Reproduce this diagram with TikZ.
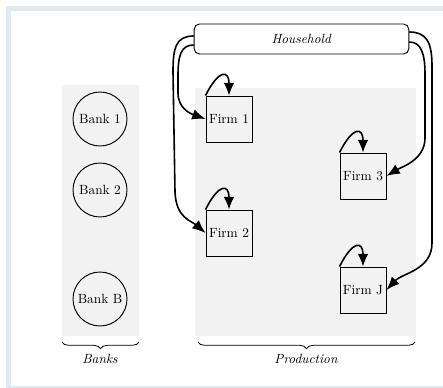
\documentclass[tikz,border=0pt]{standalone}
\usetikzlibrary{arrows.meta,calc,decorations.pathreplacing}
\definecolor{framecol}{RGB}{224,232,240}
\definecolor{panelgray}{RGB}{242,242,242}
\begin{document}
\begin{tikzpicture}[x=0.75pt,y=-0.75pt,
  panel/.style={fill=panelgray,draw=none},
  bank/.style={circle,draw,line width=0.7pt,minimum size=40.5pt,inner sep=0pt},
  firm/.style={rectangle,draw,line width=0.7pt,minimum width=34.5pt,minimum height=34.5pt,inner sep=0pt,fill=panelgray},
  house/.style={rectangle,rounded corners=4pt,draw,line width=0.7pt,minimum width=161pt,minimum height=22.5pt,fill=white},
  flow/.style={line width=1.2pt,-{Latex[length=10pt,width=8pt]}},
  loopflow/.style={line width=1.2pt,-{Latex[length=9.5pt,width=8pt]}},
  bracedec/.style={decorate,decoration={brace,mirror,amplitude=5pt},line width=0.6pt},
  caption/.style={font=\itshape}]
\useasboundingbox (0,0) rectangle (443,388);
% outer frame
\fill[framecol] (6,6) rectangle (450,388);
\fill[white] (11,11) rectangle (450,386.5);
% grey panels
\fill[panel] (62,85) rectangle (139,336);
\fill[panel] (195,88) rectangle (416,336);
% banks
\node[bank] (b1) at (100,119) {Bank 1};
\node[bank] (b2) at (100,190) {Bank 2};
\node[bank] (bB) at (100,299) {Bank B};
% household and firms
\node[house] (hh) at (301.5,39) {\textit{Household}};
\node[firm] (f1) at (229,119) {Firm 1};
\node[firm] (f2) at (229,233) {Firm 2};
\node[firm] (f3) at (363,176) {Firm 3};
\node[firm] (fJ) at (363,290) {Firm J};
% self loops
\foreach \f in {f1,f2,f3,fJ}
  \draw[loopflow] (\f.north west) .. controls +(13,-26) and +(0,-26) .. (\f.north);
% household to firms
\draw[flow] ($(hh.west)+(0,-3)$) .. controls +(-18,0) and +(0,-24) .. (173,72)
  -- (175,192) .. controls +(1,26) and +(-14,-12) .. (f2.west);
\draw[flow] ($(hh.west)+(0,6)$) .. controls +(-13,0) and +(0,-20) .. (178,76)
  -- (178,93) .. controls +(0,16) and +(-14,-5) .. (f1.west);
\draw[flow] ($(hh.east)+(0,3)$) .. controls +(12,0) and +(0,-20) .. (425,74)
  -- (425,138) .. controls +(0,22) and +(15,-9) .. (f3.east);
\draw[flow] ($(hh.east)+(0,-7)$) .. controls +(17,0) and +(0,-24) .. (432,66)
  -- (432,243) .. controls +(0,27) and +(16,-17) .. (fJ.east);
% braces and captions
\draw[bracedec] (62,342) -- (139,342);
\node[caption] (lbanks) at (100,359) {Banks};
\draw[bracedec] (198,342) -- (415,342);
\node[caption] (lprod) at (306,359) {Production};
\end{tikzpicture}
\end{document}
